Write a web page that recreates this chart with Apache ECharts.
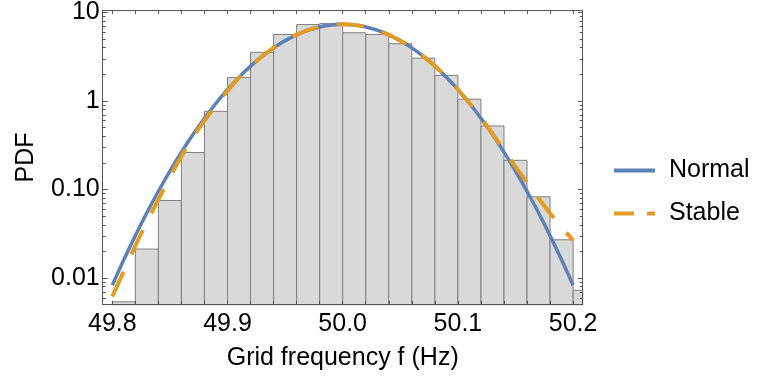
<!DOCTYPE html>
<html>
<head>
<meta charset="utf-8">
<script src="https://cdn.jsdelivr.net/npm/echarts@6/dist/echarts.min.js"></script>
<style>
    html, body { margin: 0; padding: 0; background: #fff; }
    #chart { width: 758px; height: 387px; }
</style>
</head>
<body>
<div id="chart"></div>
<script>
    // histogram bins (left edge, height)
    var binWidth = 0.02;
    var binLeft = [49.80, 49.82, 49.84, 49.86, 49.88, 49.90, 49.92, 49.94, 49.96, 49.98,
                   50.00, 50.02, 50.04, 50.06, 50.08, 50.10, 50.12, 50.14, 50.16, 50.18, 50.20];
    var binHeight = [0.0054, 0.0213, 0.0753, 0.262, 0.765, 1.84, 3.55, 5.65, 7.3, 7.5,
                     5.9, 5.65, 4.44, 3.05, 1.95, 1.05, 0.523, 0.214, 0.0828, 0.0271, 0.0073];

    // fitted curves
    var curveX = [49.80, 49.81, 49.82, 49.83, 49.84, 49.85, 49.86, 49.87, 49.88, 49.89,
                  49.90, 49.91, 49.92, 49.93, 49.94, 49.95, 49.96, 49.97, 49.98, 49.99,
                  50.00, 50.01, 50.02, 50.03, 50.04, 50.05, 50.06, 50.07, 50.08, 50.09,
                  50.10, 50.11, 50.12, 50.13, 50.14, 50.15, 50.16, 50.17, 50.18, 50.19, 50.20];
    var normalPdf = [0.0083, 0.0161, 0.0302, 0.0547, 0.0957, 0.162, 0.265, 0.418, 0.639, 0.944,
                     1.35, 1.86, 2.48, 3.20, 3.99, 4.81, 5.60, 6.31, 6.87, 7.23,
                     7.35, 7.23, 6.87, 6.31, 5.60, 4.81, 3.99, 3.20, 2.48, 1.86,
                     1.35, 0.944, 0.639, 0.418, 0.265, 0.162, 0.0957, 0.0547, 0.0302, 0.0161, 0.0083];
    var stablePdf = [0.0062, 0.012, 0.0232, 0.043, 0.0773, 0.138, 0.238, 0.39, 0.60, 0.90,
                     1.30, 1.84, 2.45, 3.18, 3.98, 4.82, 5.62, 6.33, 6.9, 7.25,
                     7.35, 7.25, 6.88, 6.3, 5.6, 4.8, 4.0, 3.22, 2.5, 1.87,
                     1.35, 0.95, 0.65, 0.43, 0.279, 0.182, 0.12, 0.0798, 0.054, 0.0376, 0.0269];

    // ticks
    var xLabelTicks = [49.8, 49.9, 50.0, 50.1, 50.2];
    var xTicks = [49.80, 49.82, 49.84, 49.86, 49.88, 49.90, 49.92, 49.94, 49.96, 49.98, 50.00,
                  50.02, 50.04, 50.06, 50.08, 50.10, 50.12, 50.14, 50.16, 50.18, 50.20];
    var yMajorTicks = [0.01, 0.1, 1, 10];
    var yTickLabels = ['0.01', '0.10', '1', '10'];
    var yMinorTicks = [0.006, 0.007, 0.008, 0.009,
                       0.02, 0.03, 0.04, 0.05, 0.06, 0.07, 0.08, 0.09,
                       0.2, 0.3, 0.4, 0.5, 0.6, 0.7, 0.8, 0.9,
                       2, 3, 4, 5, 6, 7, 8, 9];

    var xMin = 49.8 - 0.4 / 48, xMax = 50.2 + 0.4 / 48;
    var yMin = 0.00501, yMax = 10.64;

    var font = 'Liberation Sans, Arial, sans-serif';
    var frameColor = '#555';

    function pairs(xs, ys) {
        var out = [];
        for (var i = 0; i < xs.length; i++) out.push([xs[i], ys[i]]);
        return out;
    }

    var bins = [];
    for (var i = 0; i < binLeft.length; i++) {
        bins.push([binLeft[i], binLeft[i] + binWidth, binHeight[i]]);
    }

    function yLabel(v) {
        for (var i = 0; i < yMajorTicks.length; i++) {
            if (Math.abs(Math.log10(v) - Math.log10(yMajorTicks[i])) < 1e-6) return yTickLabels[i];
        }
        return '';
    }

    function xFrame(pos, withLabels) {
        return {
            type: 'value', position: pos, min: xMin, max: xMax, z: 10,
            axisLine: { show: true, onZero: false, lineStyle: { color: frameColor, width: 1 } },
            axisTick: { show: true, inside: true, length: 4, customValues: xTicks, lineStyle: { color: frameColor } },
            axisLabel: withLabels ? {
                customValues: xLabelTicks, margin: 7, fontSize: 25, color: '#000', fontFamily: font,
                formatter: function (v) { return v.toFixed(1); }
            } : { show: false },
            splitLine: { show: false }
        };
    }

    function yFrame(pos, minor, withLabels) {
        var ax = {
            type: 'log', logBase: 10, position: pos, min: yMin, max: yMax, z: 10,
            axisLine: { show: !minor, onZero: false, lineStyle: { color: frameColor, width: 1 } },
            axisTick: { show: true, inside: true, length: minor ? 3 : 5,
                customValues: minor ? yMinorTicks : yMajorTicks, lineStyle: { color: frameColor } },
            axisLabel: { show: false },
            splitLine: { show: false }
        };
        if (withLabels) {
            ax.axisLabel = { show: true, customValues: yMajorTicks, margin: 3, fontSize: 25, color: '#000',
                fontFamily: font, formatter: yLabel };
        }
        return ax;
    }

    var xName = xFrame('bottom', true);
    xName.name = 'Grid frequency f (Hz)';
    xName.nameLocation = 'middle';
    xName.nameGap = 41;
    xName.nameTextStyle = { fontSize: 25, color: '#000', fontFamily: font };

    var yName = yFrame('left', false, true);
    yName.name = 'PDF';
    yName.nameLocation = 'middle';
    yName.nameGap = 64;
    yName.nameTextStyle = { fontSize: 25, color: '#000', fontFamily: font };

    var chart = echarts.init(document.getElementById('chart'));
    var option = {
        animation: false,
        grid: { left: 102.7, right: 175.3, top: 9.3, bottom: 82.3, containLabel: false },
        xAxis: [xName, xFrame('top', false)],
        yAxis: [yName, yFrame('left', true, false), yFrame('right', false, false), yFrame('right', true, false)],
        legend: {
            orient: 'vertical', left: 609, top: 153, itemWidth: 41, itemHeight: 4, itemGap: 18,
            textStyle: { fontSize: 25, color: '#000', fontFamily: font, padding: [0, 0, 0, 9] },
            data: [
                { name: 'Normal', icon: 'path://M0,0H41V4H0Z' },
                { name: 'Stable', icon: 'path://M0,0H20V4H0Z M33,0H41V4H33Z' }
            ]
        },
        series: [{
            name: 'hist',
            type: 'custom',
            xAxisIndex: 0, yAxisIndex: 0,
            encode: { x: [0, 1], y: 2 },
            data: bins,
            z: 1,
            renderItem: function (params, api) {
                var p0 = api.coord([api.value(0), api.value(2)]);
                var p1 = api.coord([api.value(1), api.value(2)]);
                var cs = params.coordSys;
                var rect = echarts.graphic.clipRectByRect(
                    { x: p0[0], y: p0[1], width: p1[0] - p0[0], height: cs.y + cs.height - p0[1] },
                    { x: cs.x, y: cs.y, width: cs.width, height: cs.height });
                return rect && {
                    type: 'rect', shape: rect,
                    style: { fill: '#d9d9d9', stroke: '#7f7f7f', lineWidth: 1 }
                };
            }
        }, {
            name: 'Normal',
            type: 'line',
            xAxisIndex: 0, yAxisIndex: 0,
            data: pairs(curveX, normalPdf),
            smooth: 0.3,
            symbol: 'none',
            z: 3,
            lineStyle: { color: '#5e81b5', width: 3.5 },
            itemStyle: { color: '#5e81b5' }
        }, {
            name: 'Stable',
            type: 'line',
            xAxisIndex: 0, yAxisIndex: 0,
            data: pairs(curveX, stablePdf),
            smooth: 0.3,
            symbol: 'none',
            z: 4,
            lineStyle: { color: '#e19c24', width: 4, type: [27, 19], cap: 'butt' },
            itemStyle: { color: '#e19c24' }
        }]
    };
    chart.setOption(option);
</script>
</body>
</html>
